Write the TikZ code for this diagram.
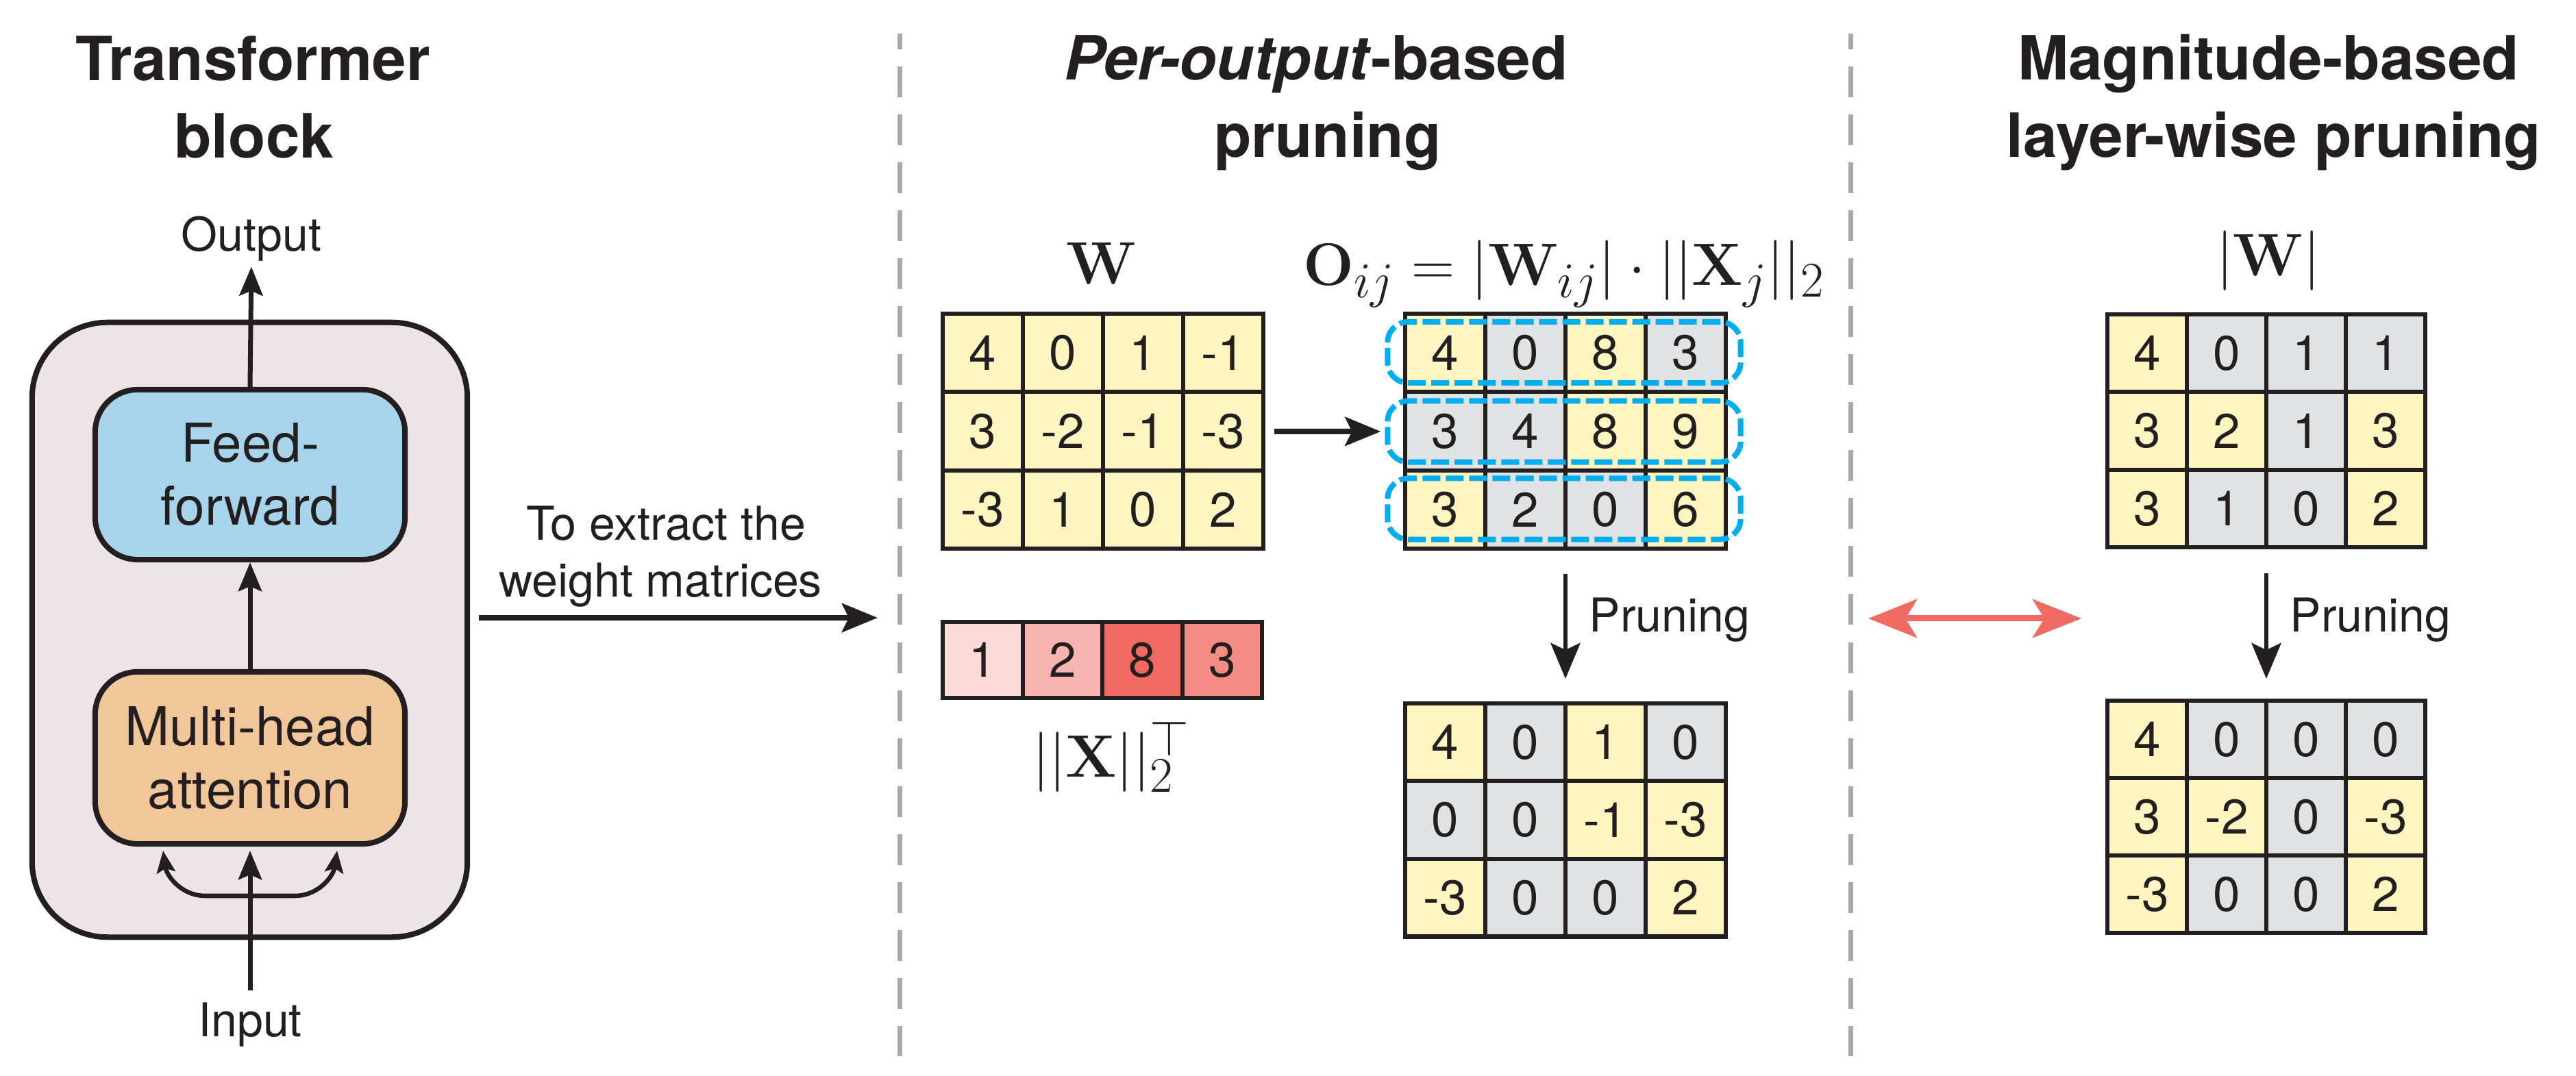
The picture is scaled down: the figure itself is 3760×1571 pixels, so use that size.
\documentclass[tikz,border=0pt]{standalone}
\usepackage[no-math]{fontspec}
\setmainfont{TeX Gyre Heros}
\usetikzlibrary{arrows.meta}
\definecolor{ink}{HTML}{231F20}
\definecolor{cy}{HTML}{FFF5C0}
\definecolor{cg}{HTML}{E1E2E4}
\definecolor{cbox}{HTML}{EDE4E8}
\definecolor{cff}{HTML}{A7D4EB}
\definecolor{cmha}{HTML}{F1C698}
\definecolor{cred}{HTML}{F06A61}
\definecolor{xa}{HTML}{FBDAD6}
\definecolor{xb}{HTML}{F7B4AF}
\definecolor{xc}{HTML}{F06A61}
\definecolor{xd}{HTML}{F48C85}
\definecolor{cdiv}{HTML}{A7A9AC}
\definecolor{cblue}{HTML}{00AEEF}
\newcommand{\ttlfont}{\fontsize{25.3}{30}\selectfont\bfseries}
\newcommand{\boxfont}{\fontsize{22.2}{26.2}\selectfont}
\newcommand{\lblfont}{\fontsize{19.35}{23.6}\selectfont}
\newcommand{\digfont}{\fontsize{20.2}{24}\selectfont}
\newcommand{\mthfont}{\fontsize{24.88}{30}\selectfont}
\newcommand{\cellgrid}[6]{%
  \foreach \val/\col [count=\k from 0] in {#6} {%
    \pgfmathtruncatemacro{\mr}{\k/4}%
    \pgfmathtruncatemacro{\mc}{\k-4*\mr}%
    \pgfmathsetmacro{\gx}{#2+(\mc+0.5)*#4}%
    \pgfmathsetmacro{\gy}{#3+(\mr+0.5)*#5}%
    \pgfmathtruncatemacro{\nrow}{\mr+1}%
    \pgfmathtruncatemacro{\ncol}{\mc+1}%
    \node[cell, fill=\col, minimum width=#4*0.01cm, minimum height=#5*0.01cm] (#1-\nrow-\ncol) at (\gx,\gy) {\val};
  }}
\begin{document}
\begin{tikzpicture}[x=0.01cm, y=-0.01cm,
  lbl/.style={inner sep=0pt, anchor=base, text=ink, font=\lblfont},
  ttl/.style={inner sep=0pt, anchor=base, text=ink, font=\ttlfont},
  mth/.style={inner sep=0pt, anchor=base, text=ink, font=\mthfont},
  blk/.style={draw=ink, line width=0.08cm, rounded corners=0.62cm, minimum width=4.52cm, align=center, font=\boxfont, text=ink, inner sep=0pt},
  cell/.style={draw=ink, line width=0.06cm, inner sep=0pt, outer sep=0pt, font=\digfont, text=ink},
  marr/.style={draw=ink, line width=0.08cm, -{Stealth[length=0.52cm, width=0.42cm, inset=0.1cm]}},
  parr/.style={draw=ink, line width=0.06cm, -{Stealth[length=0.52cm, width=0.43cm, inset=0.1cm]}},
  barr/.style={draw=ink, line width=0.07cm, -{Stealth[length=0.42cm, width=0.34cm, inset=0.07cm]}},
  sarr/.style={draw=ink, line width=0.065cm, -{Stealth[length=0.32cm, width=0.27cm, inset=0.06cm]}},
  rarr/.style={draw=cred, line width=0.09cm, {Stealth[length=0.71cm, width=0.56cm, inset=0.17cm]}-{Stealth[length=0.71cm, width=0.56cm, inset=0.17cm]}},
  divider/.style={draw=cdiv, line width=0.07cm, dash pattern=on 0.45cm off 0.25cm, dash phase=0.22cm},
  bluebox/.style={draw=cblue, line width=0.08cm, dash pattern=on 0.26cm off 0.08cm, rounded corners=0.3cm, minimum width=5.15cm, minimum height=0.89cm, inner sep=0pt}
]
\fill[white] (0,0) rectangle (3760,1571);
\useasboundingbox (0,0) rectangle (3760,1571);

% dividers
\draw[divider] (1313,49) -- (1313,1542);
\draw[divider] (2701,49) -- (2701,1542);

% ---------- left panel ----------
\node[ttl] (t1a) at (369,118) {Transformer};
\node[ttl] (t1b) at (371,231) {block};
\node[draw=ink, fill=cbox, line width=0.08cm, rounded corners=1.1cm, minimum width=6.35cm, minimum height=8.97cm, inner sep=0pt] (tb) at (364.5,919.5) {};
\node[blk, fill=cff, minimum height=2.48cm] (ff) at (365,693) {Feed-\\forward};
\node[blk, fill=cmha, minimum height=2.51cm] (mha) at (365,1106.5) {Multi-head\\attention};
\node[lbl] (out) at (367,367) {Output};
\node[lbl] (inp) at (365,1513) {Input};
\coordinate (split) at (365,1308);
\coordinate (tipL) at (238,1242);
\coordinate (tipR) at (492,1242);
\draw[barr, shorten >=0.07cm] (ff.north) -- (out.south);
\draw[barr] (mha.north) -- (ff.south);
\draw[barr, shorten <=0.17cm, shorten >=0.06cm] (inp.north) -- (mha.south);
\draw[sarr] (split) -- ++(-65,0) .. controls +(-36,0) and +(5,36) .. (tipL);
\draw[sarr] (split) -- ++(65,0) .. controls +(36,0) and +(-5,36) .. (tipR);

% extraction arrow
\node[lbl] (ext1) at (972,789) {To extract the};
\node[lbl] (ext2) at (964,872) {weight matrices};
\coordinate (extEnd) at (1281,902);
\draw[marr, shorten <=0.13cm] (tb.east |- extEnd) -- (extEnd);

% ---------- middle panel ----------
\node[ttl] (t2a) at (1921,117) {\textit{Per-output}-based};
\node[ttl] (t2b) at (1938,230) {pruning};
\node[mth] (wl) at (1608,415) {$\mathbf{W}$};
\node[mth] (fo) at (2283,417) {$\mathbf{O}_{ij}=|\mathbf{W}_{ij}|\cdot||\mathbf{X}_j||_2$};
\cellgrid{W}{1376}{458}{117}{114.5}{4/cy,0/cy,1/cy,-1/cy,3/cy,-2/cy,-1/cy,-3/cy,-3/cy,1/cy,0/cy,2/cy}
\cellgrid{O}{2051}{458}{117}{114.5}{4/cy,0/cg,8/cy,3/cg,3/cg,4/cg,8/cy,9/cy,3/cy,2/cg,0/cg,6/cy}
\node[bluebox] (B1) at (2283,514.5) {};
\node[bluebox] (B2) at (2283,630) {};
\node[bluebox] (B3) at (2283,743) {};
\draw[marr, shorten <=0.16cm, shorten >=0.06cm] (W-2-4.east) -- (B2.west);
\cellgrid{X}{1376}{908}{116.5}{111}{1/xa,2/xb,8/xc,3/xd}
\node[mth] (xl) at (1622,1135) {$||\mathbf{X}||_2^\top$};
\cellgrid{P}{2051}{1027}{117}{113.5}{4/cy,0/cg,1/cy,0/cg,0/cg,0/cg,-1/cy,-3/cy,-3/cy,0/cg,0/cg,2/cy}
\draw[parr, shorten <=0.36cm, shorten >=0.36cm] (O-3-2.south east) -- (P-1-2.north east);
\node[lbl, anchor=base west] (pr1) at (2319,923) {Pruning};

% red double arrow
\coordinate (redL) at (2727,903);
\coordinate (redR) at (3038,903);
\draw[rarr] (redL) -- (redR);

% ---------- right panel ----------
\node[ttl] (t3a) at (3311,117) {Magnitude-based};
\node[ttl] (t3b) at (3319,230) {layer-wise pruning};
\node[mth] (awl) at (3311,403) {$|\mathbf{W}|$};
\cellgrid{R}{3076}{459}{116}{113.5}{4/cy,0/cg,1/cg,1/cg,3/cy,2/cy,1/cg,3/cy,3/cy,1/cg,0/cg,2/cy}
\cellgrid{Q}{3076}{1023}{116}{113}{4/cy,0/cg,0/cg,0/cg,3/cy,-2/cy,0/cg,-3/cy,-3/cy,0/cg,0/cg,2/cy}
\draw[parr, shorten <=0.37cm, shorten >=0.32cm] (R-3-2.south east) -- (Q-1-2.north east);
\node[lbl, anchor=base west] (pr2) at (3342,923) {Pruning};
\end{tikzpicture}
\end{document}
